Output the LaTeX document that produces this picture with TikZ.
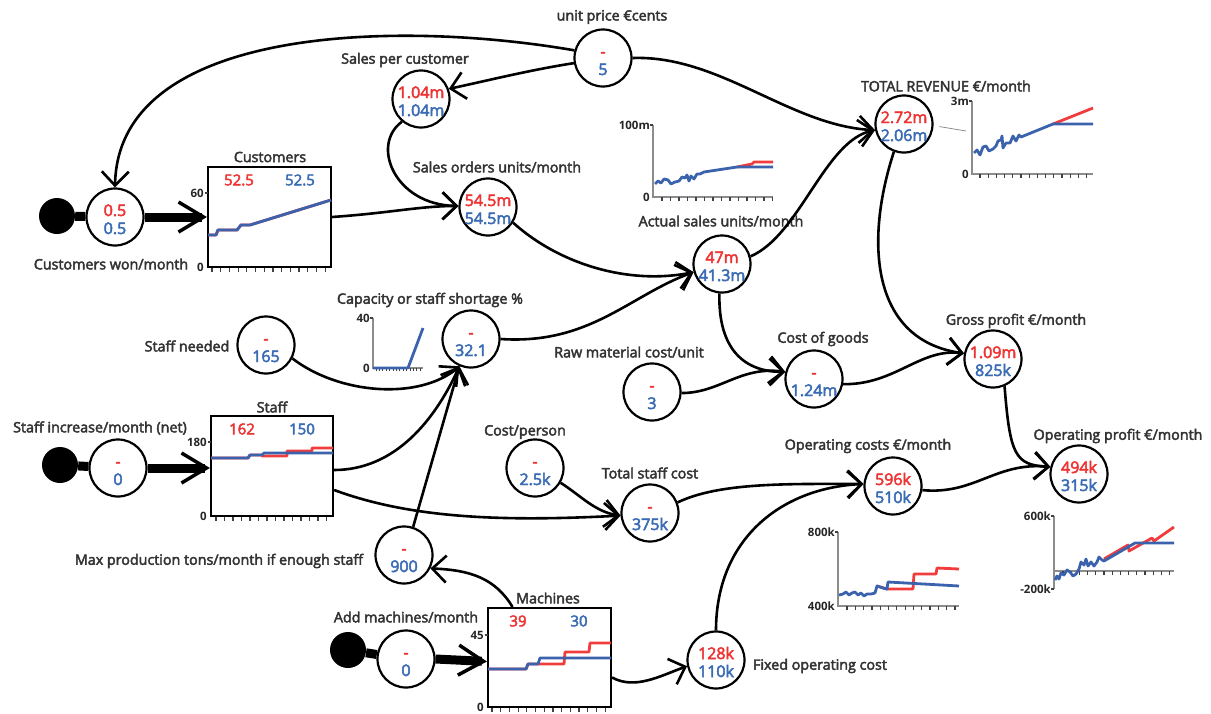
\documentclass[tikz,border=0pt]{standalone}
\usepackage{fontspec}
\setmainfont{Open Sans}
\newfontfamily\lblfont[FakeBold=3]{Open Sans}
\newfontfamily\valfont[FakeBold=3]{Open Sans}
\usetikzlibrary{arrows.meta}

\definecolor{lblc}{HTML}{333333}
\definecolor{valred}{HTML}{EE3333}
\definecolor{valblue}{HTML}{3A6BB5}
\definecolor{linered}{HTML}{F03C3C}
\definecolor{lineblue}{HTML}{3B62AD}
\definecolor{axisgrey}{HTML}{8C8C8C}

\tikzset{
  gauge/.style={circle, draw=black, line width=2.2pt, fill=white, minimum size=57pt, inner sep=0pt},
  stockbox/.style={draw=black, line width=2.2pt, fill=white, inner sep=0pt},
  lbl/.style={text=lblc, font=\lblfont\fontsize{14.3}{16}\selectfont, inner sep=0pt},
  redv/.style={text=valred, font=\valfont\fontsize{16}{18}\selectfont, inner sep=0pt, anchor=base},
  bluev/.style={text=valblue, font=\valfont\fontsize{16}{18}\selectfont, inner sep=0pt, anchor=base},
  redb/.style={text=valred, font=\valfont\fontsize{15}{16}\selectfont, inner sep=0pt},
  blueb/.style={text=valblue, font=\valfont\fontsize{15}{16}\selectfont, inner sep=0pt},
  conn/.style={line width=2.6pt, -{Straight Barb[length=14pt,width=27pt,line width=2.6pt]}},
  flow/.style={line width=9pt, -{Straight Barb[length=25pt,width=30pt,line width=3.5pt]}},
  srcbar/.style={line width=9pt},
  srcdot/.style={circle, fill=black, minimum size=36pt, inner sep=0pt},
  ax/.style={draw=axisgrey, line width=1.5pt},
  tk/.style={line width=1.2pt, draw=black!75},
  tklbl/.style={font=\bfseries\fontsize{11.5}{12}\selectfont, text=black!85, inner sep=0pt, anchor=east},
  bl/.style={draw=lineblue, line width=2.8pt, line join=round},
  rl/.style={draw=linered, line width=2.8pt, line join=round},
}

% a gauge circle with its two values (scenario in red, base in blue)
\newcommand\gaugenode[5]{%
  \node[gauge] (#1) at (#2,#3) {};
  \node[redv, yshift=1pt] (#1r) at (#1.center) {#4};
  \node[bluev, yshift=-17pt] (#1b) at (#1.center) {#5};
}

\begin{document}
\begin{tikzpicture}[x=1pt, y=-1pt]
\useasboundingbox (0,0) rectangle (1211,713);

% ---------- stocks ----------
\node[stockbox, minimum width=123pt, minimum height=100pt] (custbox) at (269.5,217) {};
\node[stockbox, minimum width=122pt, minimum height=100pt] (staffbox) at (272,466) {};
\node[stockbox, minimum width=123pt, minimum height=99pt] (machbox) at (549.5,657.5) {};

% Customers chart
\draw[rl] (208,235) -- (216,235) -- (218,230) -- (237,230) -- (241,225) -- (250,225) -- (331,200);
\draw[bl] (208,235) -- (216,235) -- (218,230) -- (237,230) -- (241,225) -- (250,225) -- (331,200);
\foreach \i in {0,...,13} \draw[tk] ({212+\i*8.7},268) -- ++(0,4);
\draw[tk] (205,193) -- (208,193);
\node[tklbl] (custy60) at (204,193) {60};
\node[tklbl] (custy0) at (204,267) {0};
\node[lbl] (custt) at (270,157) {Customers};
\node[redb] (custr) at (239,180) {52.5};
\node[blueb] (custb) at (300,180) {52.5};

% Staff chart
\draw[rl] (211,458) -- (248,458) -- (250,455) -- (262,455) -- (262,456) -- (287,456) -- (287,451) -- (312,451) -- (312,448) -- (333,448);
\draw[bl] (211,458) -- (248,458) -- (250,455) -- (262,455) -- (264,453) -- (333,453);
\foreach \i in {0,...,13} \draw[tk] ({216+\i*8.5},517) -- ++(0,4);
\draw[tk] (208,442) -- (211,442);
\node[tklbl] (staffy180) at (207,442) {180};
\node[tklbl] (staffy0) at (207,516) {0};
\node[lbl] (stafft) at (272,407) {Staff};
\node[redb] (staffr) at (242,429) {162};
\node[blueb] (staffb) at (302,429) {150};

% Machines chart
\draw[rl] (488,669) -- (526,669) -- (528,664) -- (564,664) -- (565,652) -- (589,652) -- (590,643) -- (611,643);
\draw[bl] (488,669) -- (526,669) -- (528,664) -- (538,664) -- (540,658) -- (611,658);
\foreach \i in {0,...,13} \draw[tk] ({492+\i*8.7},708) -- ++(0,4);
\draw[tk] (485,635) -- (488,635);
\node[tklbl] (machy45) at (484,635) {45};
\node[tklbl] (machy0) at (484,707) {0};
\node[lbl] (macht) at (548,598) {Machines};
\node[redb] (machr) at (518,621) {39};
\node[blueb] (machb) at (579,621) {30};

% ---------- small trend charts ----------
% Actual sales
\draw[ax] (653,125) -- (653,197) -- (773,197);
\foreach \i in {0,...,13} \draw[tk] ({662+\i*8.5},197) -- ++(0,4);
\draw[tk] (650,125) -- (653,125);
\node[tklbl] (asy100) at (650,125) {100m};
\node[tklbl] (asy0) at (650,197) {0};
\draw[rl] (737,167) -- (752,164) -- (754,162) -- (773,162);
\draw[bl] (655,184) -- (658,181) -- (661,183) -- (664,179) -- (668,180) -- (671,184) -- (675,182) -- (679,181) -- (682,177) -- (685,178) -- (687,175) -- (689,181) -- (691,176) -- (694,179) -- (697,174) -- (700,174) -- (704,172) -- (737,167) -- (773,167);

% Total revenue
\draw[ax] (972,101) -- (972,174) -- (1093,174);
\foreach \i in {0,...,13} \draw[tk] ({980+\i*8.2},174) -- ++(0,4);
\draw[tk] (969,101) -- (972,101);
\node[tklbl] (try3) at (969,101) {3m};
\node[tklbl] (try0) at (969,174) {0};
\draw[rl] (1053,124) -- (1093,108);
\draw[bl] (974,153) -- (977,150) -- (980,155) -- (983,147) -- (986,146) -- (989,151) -- (993,149) -- (996,146) -- (998,141) -- (1001,140) -- (1002,136) -- (1003,148) -- (1006,143) -- (1010,143) -- (1013,136) -- (1016,141) -- (1019,135) -- (1021,137) -- (1053,124) -- (1093,124);

% Capacity or staff shortage
\draw[ax] (373,318) -- (373,368) -- (423,368);
\foreach \i in {0,...,13} \draw[tk, line width=0.9pt] ({376+\i*3.4},368) -- ++(0,3);
\draw[tk] (370,318) -- (373,318);
\node[tklbl] (capy40) at (370,318) {40};
\node[tklbl] (capy0) at (370,368) {0};
\draw[bl] (373,368) -- (408,368) -- (423,328);

% Operating costs
\draw[ax] (838,532) -- (838,606) -- (959,606);
\foreach \i in {0,...,13} \draw[tk] ({847+\i*8.3},606) -- ++(0,4);
\draw[tk] (835,532) -- (838,532);
\node[tklbl] (ocy800) at (835,532) {800k};
\node[tklbl] (ocy400) at (835,606) {400k};
\draw[rl] (877,586) -- (887,589) -- (913,589) -- (914,574) -- (936,574) -- (937,568) -- (959,569);
\draw[bl] (839,595) -- (843,594) -- (846,592) -- (849,595) -- (852,593) -- (855,592) -- (858,595) -- (861,593) -- (864,596) -- (867,594) -- (871,594) -- (875,593) -- (877,586) -- (883,588) -- (887,589) -- (888,582) -- (959,586);

% Operating profit
\draw[ax] (1054,516) -- (1054,589);
\draw[ax] (1054,571) -- (1174,571);
\foreach \i in {0,...,13} \draw[tk] ({1063+\i*8.2},571) -- ++(0,4);
\draw[tk] (1051,516) -- (1054,516);
\draw[tk] (1051,589) -- (1054,589);
\node[tklbl] (opy600) at (1051,516) {600k};
\node[tklbl] (opym200) at (1051,589) {-200k};
\draw[rl] (1104,559) -- (1128,545) -- (1129,551) -- (1152,538) -- (1154,541) -- (1174,527);
\draw[bl] (1055,580) -- (1057,576) -- (1059,579) -- (1061,573) -- (1064,575) -- (1067,570) -- (1070,572) -- (1073,576) -- (1076,574) -- (1079,569) -- (1081,562) -- (1084,565) -- (1086,559) -- (1088,566) -- (1091,562) -- (1094,566) -- (1097,562) -- (1099,557) -- (1102,560) -- (1104,561) -- (1135,543) -- (1174,543);

% ---------- variables ----------
\gaugenode{cw}{115}{217}{0.5}{0.5}
\gaugenode{spc}{421}{99}{1.04m}{1.04m}
\gaugenode{up}{603}{58}{-}{5}
\gaugenode{so}{488}{207}{54.5m}{54.5m}
\gaugenode{as}{722}{264}{47m}{41.3m}
\gaugenode{tr}{904}{124}{2.72m}{2.06m}
\gaugenode{sn}{266}{345}{-}{165}
\gaugenode{cap}{471}{339}{-}{32.1}
\gaugenode{si}{118}{468}{-}{0}
\gaugenode{cp}{535}{468}{-}{2.5k}
\gaugenode{tsc}{650}{513}{-}{375k}
\gaugenode{rm}{652}{392}{-}{3}
\gaugenode{cog}{814}{379}{-}{1.24m}
\gaugenode{gp}{993}{359}{1.09m}{825k}
\gaugenode{op}{1079}{474}{494k}{315k}
\gaugenode{oc}{893}{486}{596k}{510k}
\gaugenode{mp}{404}{555}{-}{900}
\gaugenode{am}{406}{659}{-}{0}
\gaugenode{foc}{716}{660}{128k}{110k}

% sources of the inflows
\node[srcdot] (cwsrc) at (57,216) {};
\node[srcdot] (sisrc) at (60,465) {};
\node[srcdot] (amsrc) at (348,650) {};

% ---------- labels ----------
\node[lbl] (cwl) at (111,264) {Customers won/month};
\node[lbl] (spcl) at (405,60) {Sales per customer};
\node[lbl] (upl) at (612,17) {unit price €cents};
\node[lbl] (sol) at (497,167) {Sales orders units/month};
\node[lbl] (asl) at (721,221) {Actual sales units/month};
\node[lbl] (trl) at (946,86) {TOTAL REVENUE €/month};
\node[lbl] (capl) at (430,300) {Capacity or staff shortage \%};
\node[lbl] (snl) at (187,346) {Staff needed};
\node[lbl] (sil) at (100,428) {Staff increase/month (net)};
\node[lbl] (rml) at (629,352) {Raw material cost/unit};
\node[lbl] (cogl) at (823,339) {Cost of goods};
\node[lbl] (gpl) at (1016,321) {Gross profit €/month};
\node[lbl] (cpl) at (525,432) {Cost/person};
\node[lbl] (tscl) at (650,473) {Total staff cost};
\node[lbl] (ocl) at (868,446) {Operating costs €/month};
\node[lbl] (opl) at (1118,436) {Operating profit €/month};
\node[lbl] (mpl) at (219,561) {Max production tons/month if enough staff};
\node[lbl] (aml) at (406,617) {Add machines/month};
\node[lbl] (focl) at (820,666) {Fixed operating cost};

% ---------- flows ----------
\draw[srcbar] (cwsrc) -- (cw);
\draw[flow] (cw.east) -- (custbox.west);
\draw[srcbar] (sisrc) -- (si);
\draw[flow] (si.east) -- (si.east -| staffbox.west);
\draw[srcbar] (amsrc) -- (am);
\draw[flow] (am.east) -- ([yshift=-4pt]machbox.west);

% ---------- links ----------
\draw[conn] (up.165) .. controls (400,20) and (118,25) .. (cw.north);
\draw[conn] (up.190) .. controls (530,70) and (490,80) .. (spc.20);
\draw[conn] (up.east) .. controls (720,55) and (790,126) .. (tr.192);
\draw[conn] (spc.230) .. controls (370,145) and (395,205) .. (so.178);
\draw[conn] (custbox.east) .. controls (390,213) and (420,206) .. (so.178);
\draw[conn] (so.-32) .. controls (560,265) and (630,285) .. (as.196);
\draw[conn] (cap.east) .. controls (590,345) and (630,295) .. (as.196);
\draw[conn] (as.15) .. controls (800,235) and (825,140) .. (tr.192);
\draw[conn] (as.265) .. controls (718,350) and (745,372) .. (cog.166);
\draw[conn] (rm.358) .. controls (720,393) and (740,366) .. (cog.166);
\draw[conn] (cog.350) .. controls (895,385) and (920,348) .. (gp.169);
\draw[conn] (tr.250) .. controls (865,240) and (870,340) .. (gp.169);
\draw[conn] (gp.293) .. controls (1010,455) and (1015,465) .. (op.166);
\draw[conn] (oc.352) .. controls (975,495) and (995,462) .. (op.166);
\draw[conn] (tsc.21) .. controls (720,482) and (790,484) .. (oc.176);
\draw[conn] (foc.north) .. controls (716,540) and (780,488) .. (oc.176);
\draw[conn] ([yshift=-20pt]machbox.east) .. controls (635,690) and (660,676) .. (foc.192);
\draw[conn] ([xshift=-37pt]machbox.north) .. controls (495,578) and (470,570) .. (mp.333);
\draw[conn] (mp.72) -- (cap.247);
\draw[conn] ([yshift=-4pt]staffbox.east) .. controls (395,470) and (435,420) .. (cap.247);
\draw[conn] (sn.333) .. controls (340,395) and (420,400) .. (cap.247);
\draw[conn] ([yshift=-24pt]staffbox.east) .. controls (410,518) and (500,522) .. (tsc.185);
\draw[conn] (cp.330) .. controls (580,495) and (595,512) .. (tsc.185);

% pointer from the revenue gauge to its trend chart
\draw[axisgrey, line width=0.8pt] ([xshift=6pt]tr.-5) -- (966,131);
\end{tikzpicture}
\end{document}
